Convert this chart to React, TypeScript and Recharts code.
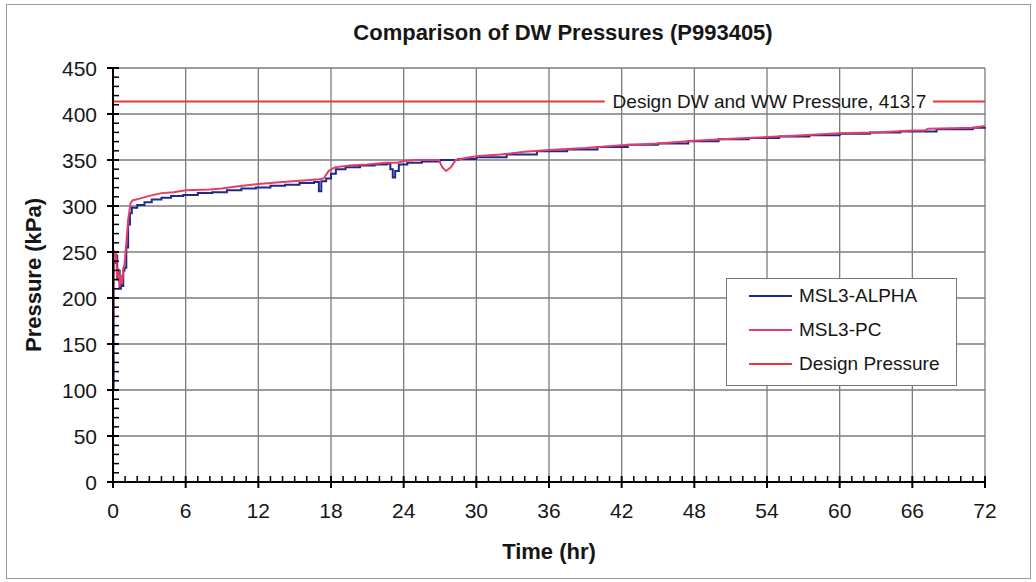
import React from 'react';
import { LineChart, Line, XAxis, YAxis, ReferenceLine, Legend, ReferenceDot } from 'recharts';

const ALPHA = '#1e2a88';
const PC = '#e43e68';
const DESIGN = '#e6363f';
const GRID = '#7c7c7c';
const INK = '#161616';
const FONT = '"Liberation Sans", Arial, sans-serif';

// MSL3-ALPHA (stepped, sits a little under the PC trace)
const alphaHours = [0, 0.05, 0.15, 0.25, 0.35, 0.45, 0.55, 0.65, 0.75, 0.85, 0.95, 1.1, 1.25, 1.4, 1.55, 2, 2.6, 3.2, 4, 4.8, 5.8, 7, 8.2, 9.4, 10.6, 11.8, 13, 14.2, 15.4, 16.6, 17, 17.2, 17.6, 18, 18.4, 19.2, 20.4, 21.6, 22.6, 22.9, 23.1, 23.3, 23.6, 24.3, 25.5, 27, 28.5, 30, 32.5, 35, 37.5, 40, 42.5, 45, 47.5, 50, 52.5, 55, 57.5, 60, 62.5, 65, 68, 71, 72];
const alphaKpa = [100, 248, 238, 246, 220, 230, 210, 222, 213, 230, 233, 255, 280, 292, 298, 301, 304, 307, 309, 311, 312, 314, 315, 317, 319, 320, 322, 323, 325, 326, 316, 327, 330, 335, 340, 342, 344, 345, 346, 340, 331, 338, 345, 347, 348.5, 350, 351, 353, 356, 359.5, 361.5, 364, 366.5, 368, 370.5, 372.5, 374, 375.5, 377, 378.5, 380, 381, 383.5, 385, 386];

// MSL3-PC
const pcHours = [0, 0.05, 0.15, 0.25, 0.35, 0.45, 0.55, 0.65, 0.75, 0.85, 0.95, 1.1, 1.25, 1.45, 1.6, 2.2, 3, 4, 5, 6, 8, 9, 10, 12, 14, 16, 17, 17.4, 17.8, 18.3, 19.5, 21, 22.5, 23.5, 24, 25, 26.9, 27.2, 27.5, 27.9, 28.3, 29, 30, 32, 34, 36, 39, 42, 45, 48, 51, 54, 57, 60, 63, 66, 67, 67.3, 71, 72];
const pcKpa = [100, 252, 240, 250, 222, 232, 212, 225, 215, 232, 236, 260, 285, 303, 306, 308, 311, 314, 315, 317, 318, 319, 321, 324, 326, 328, 329, 330, 338, 342, 344, 345, 347, 347, 349, 350, 350, 342, 338, 342, 350, 352, 354, 356, 359, 361, 363, 366, 368, 371, 373, 375, 377, 379, 380, 382, 382, 384, 385, 387];

// Design pressure line, broken where the label sits
const designHours = [0, 40.6, 54, 67.7, 72];
const designKpa = [413.7, 413.7, null, 413.7, 413.7];
const designLabel = 'Design DW and WW Pressure, 413.7';
const designLabelHour = 54.2;

const seriesOrder = ['MSL3-ALPHA', 'MSL3-PC', 'Design Pressure'];
const hourTicks = [0, 6, 12, 18, 24, 30, 36, 42, 48, 54, 60, 66, 72];
const kpaTicks = [0, 50, 100, 150, 200, 250, 300, 350, 400, 450];
const minorHourTicks = Array.from({ length: 73 }, (_, i) => i);
const minorKpaTicks = Array.from({ length: 46 }, (_, i) => i * 10);

const alphaData = alphaHours.map((h, i) => ({ hours: h, kpa: alphaKpa[i] }));
const pcData = pcHours.map((h, i) => ({ hours: h, kpa: pcKpa[i] }));
const designData = designHours.map((h, i) => ({ hours: h, kpa: designKpa[i] }));

function HourTick({ x, y, payload }: any) {
  const major = hourTicks.includes(payload.value);
  return (
    <g>
      <line x1={x} x2={x} y1={y - 6} y2={major ? y + 6 : y} stroke="#000" strokeWidth={major ? 2 : 1.5} />
      {major && (
        <text x={x} y={y + 36} textAnchor="middle" style={{ fontSize: 21, fill: INK, fontFamily: FONT }}>
          {payload.value}
        </text>
      )}
    </g>
  );
}

function KpaTick({ x, y, payload }: any) {
  const major = kpaTicks.includes(payload.value);
  return (
    <g>
      <line x1={major ? x - 6 : x} x2={x + 6} y1={y} y2={y} stroke="#000" strokeWidth={major ? 2 : 1.5} />
      {major && (
        <text x={x - 16} y={y} textAnchor="end" dominantBaseline="central" style={{ fontSize: 21, fill: INK, fontFamily: FONT }}>
          {payload.value}
        </text>
      )}
    </g>
  );
}

function YTitle({ viewBox }: any) {
  const x = viewBox.x + 33;
  const y = viewBox.y + viewBox.height / 2;
  return (
    <text
      x={x}
      y={y}
      transform={`rotate(-90 ${x} ${y})`}
      textAnchor="middle"
      dominantBaseline="central"
      style={{ fontSize: 22, fontWeight: 'bold', fill: INK, fontFamily: FONT }}
    >
      Pressure (kPa)
    </text>
  );
}

function LegendBox({ payload }: any) {
  const items = [...(payload || [])]
    .filter((a: any) => seriesOrder.includes(a.value))
    .sort((a: any, b: any) => seriesOrder.indexOf(a.value) - seriesOrder.indexOf(b.value));
  return (
    <div
      style={{
        width: 231,
        height: 108,
        boxSizing: 'border-box',
        border: '1.5px solid #777',
        background: '#fff',
        padding: '0 0 0 22px',
        fontFamily: FONT,
      }}
    >
      {items.map((entry: any) => (
        <div key={entry.value} style={{ display: 'flex', alignItems: 'center', height: 34 }}>
          <span style={{ display: 'inline-block', width: 43, height: 0, borderTop: `2px solid ${entry.color}` }} />
          <span style={{ marginLeft: 7, fontSize: 19, color: INK }}>{entry.value}</span>
        </div>
      ))}
    </div>
  );
}

export default function App() {
  return (
    <div style={{ position: 'absolute', left: 0, top: 0, width: 1036, height: 582, background: '#fff' }}>
      <div
        style={{
          position: 'absolute',
          left: 6,
          top: 4,
          width: 1023,
          height: 573,
          border: '1px solid #9a9a9a',
        }}
      />
      <div
        style={{
          position: 'absolute',
          left: 0,
          width: 1126,
          top: 20,
          textAlign: 'center',
          fontFamily: FONT,
          fontWeight: 'bold',
          fontSize: 22,
          color: INK,
        }}
      >
        Comparison of DW Pressures (P993405)
      </div>
      <LineChart width={1036} height={582} margin={{ top: 68, right: 51, left: 0, bottom: 0 }} style={{ position: 'absolute', left: 0, top: 0 }}>
        {hourTicks.slice(1).map((t) => (
          <ReferenceLine key={`gx${t}`} x={t} stroke={GRID} strokeWidth={1.3} />
        ))}
        {kpaTicks.slice(1).map((v) => (
          <ReferenceLine key={`gy${v}`} y={v} stroke={GRID} strokeWidth={1.3} />
        ))}
        <XAxis
          dataKey="hours"
          type="number"
          domain={[0, 72]}
          ticks={minorHourTicks}
          interval={0}
          height={100}
          tick={<HourTick />}
          tickSize={0}
          tickMargin={0}
          tickLine={false}
          axisLine={{ stroke: '#000', strokeWidth: 2 }}
          label={{ value: 'Time (hr)', position: 'insideBottom', offset: 23, style: { fontSize: 22, fontWeight: 'bold', fill: INK, fontFamily: FONT } }}
        />
        <YAxis
          type="number"
          domain={[0, 450]}
          ticks={minorKpaTicks}
          interval={0}
          width={113}
          tick={<KpaTick />}
          tickSize={0}
          tickMargin={0}
          tickLine={false}
          axisLine={{ stroke: '#000', strokeWidth: 2 }}
          label={<YTitle />}
        />
        <Legend
          layout="vertical"
          align="center"
          verticalAlign="middle"
          wrapperStyle={{ left: 726, top: 278, width: 231, height: 108 }}
          content={<LegendBox />}
        />
        <Line
          data={alphaData}
          dataKey="kpa"
          name="MSL3-ALPHA"
          type="stepAfter"
          stroke={ALPHA}
          strokeWidth={2}
          dot={false}
          isAnimationActive={false}
        />
        <Line
          data={pcData}
          dataKey="kpa"
          name="MSL3-PC"
          type="linear"
          stroke={PC}
          strokeWidth={2}
          dot={false}
          isAnimationActive={false}
        />
        <Line
          data={designData}
          dataKey="kpa"
          name="Design Pressure"
          type="linear"
          stroke={DESIGN}
          strokeWidth={2}
          dot={false}
          connectNulls={false}
          isAnimationActive={false}
        />
        <ReferenceDot
          x={designLabelHour}
          y={413.7}
          r={0}
          fill="none"
          stroke="none"
          label={{ value: designLabel, position: 'center', style: { fontSize: 19, fill: INK, fontFamily: FONT } }}
        />
      </LineChart>
    </div>
  );
}
